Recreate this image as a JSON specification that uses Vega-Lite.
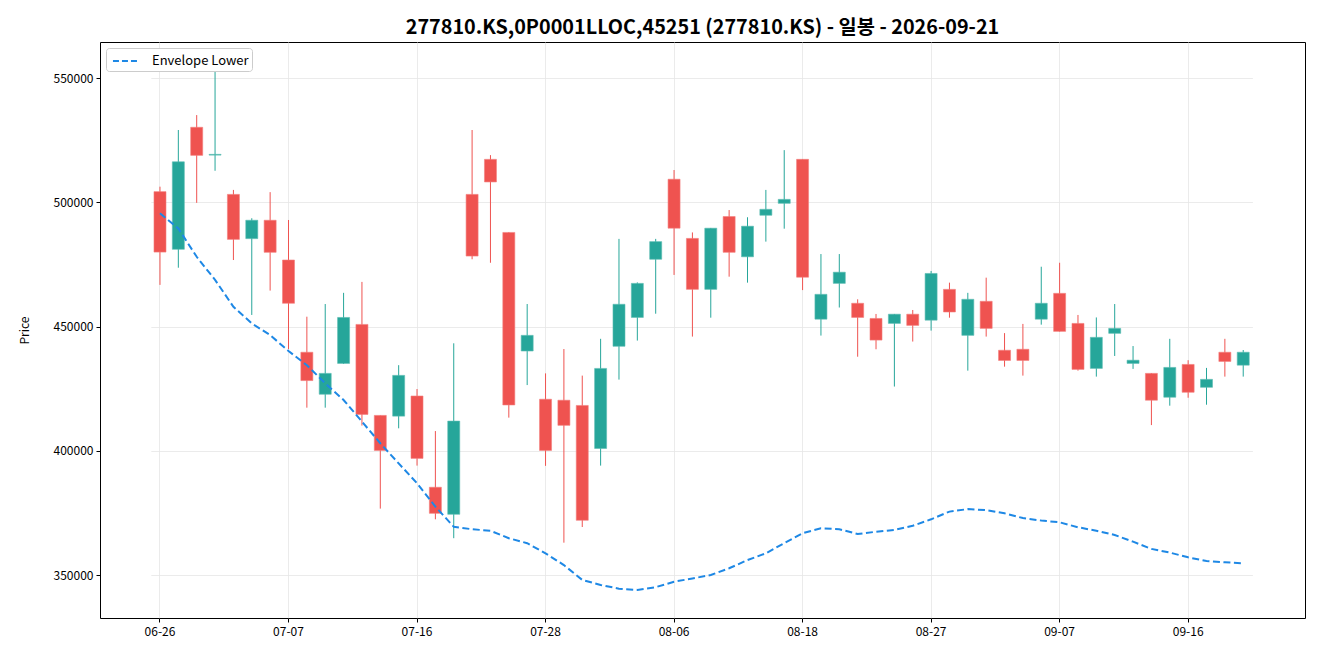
{
  "$schema": "https://vega.github.io/schema/vega-lite/v6.json",
  "width": 1205,
  "height": 576,
  "autosize": {"type": "none"},
  "padding": {"left": 100, "top": 42, "right": 15, "bottom": 42},
  "background": "white",
  "title": {
    "text": "277810.KS,0P0001LLOC,45251 (277810.KS) - 일봉 - 2026-09-21",
    "font": "Noto Sans CJK KR",
    "fontSize": 19.8,
    "fontWeight": "bold",
    "color": "#000000",
    "anchor": "middle",
    "offset": 4
  },
  "config": {
    "font": "Noto Sans CJK KR",
    "view": {"stroke": "#000000", "strokeWidth": 1},
    "axis": {
      "labelFont": "Noto Sans CJK KR",
      "labelFontSize": 12,
      "labelColor": "#000000",
      "titleFont": "Noto Sans CJK KR",
      "titleFontSize": 12,
      "titleFontWeight": "normal",
      "titleColor": "#000000",
      "domain": false,
      "tickColor": "#000000",
      "tickSize": 4,
      "gridColor": "#e6e6e6",
      "gridWidth": 0.8
    }
  },
  "data": {
    "values": [
      {"date": "06-26", "open": 504300, "high": 506300, "low": 466800, "close": 480000, "env": 495600},
      {"date": "06-29", "open": 481100, "high": 529100, "low": 473700, "close": 516300, "env": 489500},
      {"date": "06-30", "open": 530200, "high": 535100, "low": 499800, "close": 518900, "env": 478100},
      {"date": "07-01", "open": 519000, "high": 553900, "low": 512700, "close": 519300, "env": 468800},
      {"date": "07-02", "open": 503200, "high": 505000, "low": 476800, "close": 485100, "env": 458000},
      {"date": "07-03", "open": 485400, "high": 493600, "low": 454700, "close": 492800, "env": 451300},
      {"date": "07-06", "open": 492800, "high": 504100, "low": 464500, "close": 479900, "env": 446600},
      {"date": "07-07", "open": 476800, "high": 492900, "low": 441000, "close": 459400, "env": 440200},
      {"date": "07-08", "open": 439700, "high": 454000, "low": 417400, "close": 428300, "env": 434500},
      {"date": "07-09", "open": 422800, "high": 459100, "low": 417400, "close": 431200, "env": 427200},
      {"date": "07-10", "open": 435200, "high": 463600, "low": 435000, "close": 453700, "env": 420500},
      {"date": "07-13", "open": 450900, "high": 468000, "low": 410200, "close": 414700, "env": 411800},
      {"date": "07-14", "open": 414300, "high": 414300, "low": 376800, "close": 400200, "env": 403100},
      {"date": "07-15", "open": 414000, "high": 434500, "low": 409100, "close": 430400, "env": 395000},
      {"date": "07-16", "open": 422100, "high": 424900, "low": 394100, "close": 397000, "env": 387000},
      {"date": "07-20", "open": 385400, "high": 408000, "low": 372500, "close": 374900, "env": 377600},
      {"date": "07-21", "open": 374500, "high": 443300, "low": 364900, "close": 412000, "env": 369500},
      {"date": "07-22", "open": 503200, "high": 529100, "low": 477100, "close": 478400, "env": 368500},
      {"date": "07-23", "open": 517300, "high": 519000, "low": 475700, "close": 508200, "env": 367900},
      {"date": "07-24", "open": 487900, "high": 488000, "low": 413400, "close": 418500, "env": 364900},
      {"date": "07-27", "open": 440200, "high": 459100, "low": 426500, "close": 446500, "env": 362900},
      {"date": "07-28", "open": 420800, "high": 431200, "low": 394000, "close": 400200, "env": 358800},
      {"date": "07-29", "open": 420400, "high": 441000, "low": 363100, "close": 410300, "env": 354100},
      {"date": "07-30", "open": 418300, "high": 430300, "low": 369400, "close": 372100, "env": 348100},
      {"date": "07-31", "open": 401000, "high": 445100, "low": 394100, "close": 433200, "env": 346100},
      {"date": "08-03", "open": 442100, "high": 485300, "low": 428700, "close": 459000, "env": 344600},
      {"date": "08-04", "open": 453700, "high": 467800, "low": 444400, "close": 467400, "env": 344100},
      {"date": "08-05", "open": 477100, "high": 485300, "low": 455200, "close": 484200, "env": 345200},
      {"date": "08-06", "open": 509300, "high": 513000, "low": 470800, "close": 489600, "env": 347400},
      {"date": "08-07", "open": 485500, "high": 487900, "low": 446000, "close": 465000, "env": 348700},
      {"date": "08-10", "open": 465000, "high": 489700, "low": 453600, "close": 489600, "env": 350100},
      {"date": "08-11", "open": 494300, "high": 496900, "low": 470100, "close": 479900, "env": 352800},
      {"date": "08-12", "open": 478100, "high": 494000, "low": 467700, "close": 490400, "env": 356100},
      {"date": "08-13", "open": 494800, "high": 505000, "low": 484200, "close": 497200, "env": 358800},
      {"date": "08-14", "open": 499600, "high": 521000, "low": 489400, "close": 501200, "env": 362900},
      {"date": "08-18", "open": 517300, "high": 517300, "low": 464700, "close": 469900, "env": 366900},
      {"date": "08-19", "open": 453000, "high": 479200, "low": 446400, "close": 463000, "env": 368900},
      {"date": "08-20", "open": 467400, "high": 479200, "low": 457700, "close": 471900, "env": 368500},
      {"date": "08-21", "open": 459400, "high": 461000, "low": 437900, "close": 453700, "env": 366600},
      {"date": "08-24", "open": 453300, "high": 455100, "low": 440900, "close": 444600, "env": 367500},
      {"date": "08-25", "open": 451300, "high": 455100, "low": 425900, "close": 455000, "env": 368200},
      {"date": "08-26", "open": 455000, "high": 456700, "low": 444000, "close": 450500, "env": 369900},
      {"date": "08-27", "open": 452600, "high": 472400, "low": 448400, "close": 471400, "env": 372500},
      {"date": "08-28", "open": 465000, "high": 467700, "low": 453600, "close": 455900, "env": 375600},
      {"date": "08-31", "open": 446500, "high": 463600, "low": 432300, "close": 461000, "env": 376600},
      {"date": "09-01", "open": 460200, "high": 469700, "low": 446000, "close": 449300, "env": 376200},
      {"date": "09-02", "open": 440500, "high": 447400, "low": 433900, "close": 436400, "env": 374900},
      {"date": "09-03", "open": 440900, "high": 451100, "low": 430300, "close": 436400, "env": 373000},
      {"date": "09-04", "open": 453000, "high": 474100, "low": 450800, "close": 459400, "env": 372000},
      {"date": "09-07", "open": 463400, "high": 475700, "low": 448000, "close": 448100, "env": 371300},
      {"date": "09-08", "open": 451300, "high": 454700, "low": 432300, "close": 432800, "env": 369300},
      {"date": "09-09", "open": 433200, "high": 453700, "low": 429900, "close": 445700, "env": 367900},
      {"date": "09-10", "open": 447300, "high": 459100, "low": 438200, "close": 449300, "env": 366200},
      {"date": "09-11", "open": 435200, "high": 442200, "low": 433000, "close": 436500, "env": 363500},
      {"date": "09-14", "open": 431200, "high": 431300, "low": 410400, "close": 420400, "env": 360600},
      {"date": "09-15", "open": 421600, "high": 445100, "low": 418200, "close": 433600, "env": 359100},
      {"date": "09-16", "open": 434800, "high": 436500, "low": 421400, "close": 423600, "env": 357200},
      {"date": "09-17", "open": 425600, "high": 433400, "low": 418600, "close": 428800, "env": 355700},
      {"date": "09-18", "open": 439700, "high": 445100, "low": 429900, "close": 436000, "env": 355200},
      {"date": "09-21", "open": 434500, "high": 440600, "low": 429900, "close": 439700, "env": 354800}
    ]
  },
  "encoding": {
    "x": {
      "field": "date",
      "type": "ordinal",
      "sort": null,
      "scale": {"type": "band", "paddingInner": 0, "paddingOuter": 0, "range": [50.8, 1152.4]},
      "title": null,
      "axis": {
        "values": ["06-26", "07-07", "07-16", "07-28", "08-06", "08-18", "08-27", "09-07", "09-16"],
        "labelAngle": 0,
        "bandPosition": 0.5,
        "grid": true,
        "labelPadding": 4
      }
    }
  },
  "layer": [
    {
      "mark": {"type": "rule", "strokeWidth": 1},
      "encoding": {
        "y": {
          "field": "low",
          "type": "quantitative",
          "title": "Price",
          "scale": {"domain": [332800, 564500], "nice": false, "zero": false},
          "axis": {"values": [350000, 400000, 450000, 500000, 550000], "format": "d", "grid": true, "labelPadding": 3, "titlePadding": 22}
        },
        "y2": {"field": "high"},
        "color": {"condition": {"test": "datum.close >= datum.open", "value": "#26a69a"}, "value": "#ef5350"}
      }
    },
    {
      "mark": {"type": "bar", "size": 12, "strokeWidth": 1, "strokeOpacity": 0.6},
      "encoding": {
        "y": {"field": "open", "type": "quantitative"},
        "y2": {"field": "close"},
        "color": {"condition": {"test": "datum.close >= datum.open", "value": "#26a69a"}, "value": "#ef5350"},
        "stroke": {"condition": {"test": "datum.close >= datum.open", "value": "#5cbdb3"}, "value": "#f47f7d"}
      }
    },
    {
      "mark": {"type": "line", "strokeWidth": 2, "strokeDash": [7, 3.5]},
      "encoding": {
        "y": {"field": "env", "type": "quantitative"},
        "color": {
          "datum": "Envelope Lower",
          "type": "nominal",
          "scale": {"range": ["#1e88e5"]},
          "legend": {
            "title": null,
            "orient": "top-left",
            "offset": 6,
            "symbolType": "M-0.67,0H2.33",
            "symbolSize": 324,
            "symbolStrokeWidth": 2,
            "symbolDash": [6, 3],
            "symbolStrokeColor": "#1e88e5",
            "labelFontSize": 13,
            "labelFont": "Noto Sans CJK KR",
            "labelColor": "#000000",
            "labelOffset": 23,
            "fillColor": "#ffffff",
            "strokeColor": "#cccccc",
            "cornerRadius": 3,
            "padding": 3
          }
        }
      }
    }
  ]
}
